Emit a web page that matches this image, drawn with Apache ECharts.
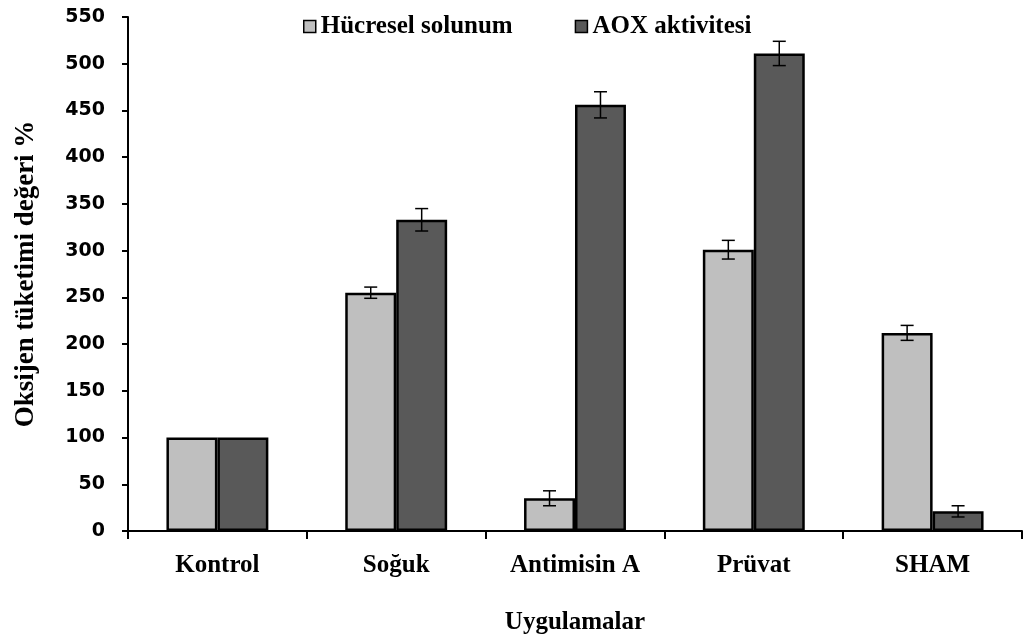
<!DOCTYPE html>
<html>
<head>
<meta charset="utf-8">
<script src="https://cdn.jsdelivr.net/npm/echarts@6/dist/echarts.min.js"></script>
<style>
  html, body { margin: 0; padding: 0; background: #fff; }
  #chart { width: 1025px; height: 643px; }
</style>
</head>
<body>
<div id="chart"></div>
<script>
// Treatments on the x axis
const categories = ['Kontrol', 'Soğuk', 'Antimisin A', 'Prüvat', 'SHAM'];
const seriesNames = ['Hücresel solunum', 'AOX aktivitesi'];
// Oxygen consumption, % of control
const cellularResp = [100, 255, 35, 301, 212];
const aoxActivity = [100, 333, 456, 511, 21];
// Standard error for each bar (0 = no error bar)
const cellularErr = [0, 6, 8, 10, 8];
const aoxErr = [0, 12, 14, 13, 6];
const yTicks = { min: 0, max: 550, interval: 50 };

const chart = echarts.init(document.getElementById('chart'));
const serif = '"Liberation Serif", "Times New Roman", serif';
const sans = '"DejaVu Sans", Verdana, sans-serif';

const gapRatio = 0.43;

// Error bars drawn as a custom series, offset onto the matching bar
function errorSeries(values, errors, sideIndex) {
  const data = values.map((v, i) => [i, v, errors[i]]).filter(d => d[2] > 0);
  return {
    type: 'custom',
    z: 10,
    silent: true,
    renderItem: function (params, api) {
      const idx = api.value(0);
      const v = api.value(1);
      const e = api.value(2);
      const bandW = api.size([1, 0])[0];
      const barW = bandW * (1 - gapRatio) / 2;
      const center = api.coord([idx, v]);
      const x = center[0] + (sideIndex === 0 ? -barW / 2 : barW / 2);
      const top = api.coord([idx, v + e])[1];
      const bot = api.coord([idx, v - e])[1];
      const cap = 6.5;
      const style = { stroke: '#000', lineWidth: 1.5 };
      return {
        type: 'group',
        children: [
          { type: 'line', shape: { x1: x, y1: top, x2: x, y2: bot }, style: style },
          { type: 'line', shape: { x1: x - cap, y1: top, x2: x + cap, y2: top }, style: style },
          { type: 'line', shape: { x1: x - cap, y1: bot, x2: x + cap, y2: bot }, style: style }
        ]
      };
    },
    data: data
  };
}

chart.setOption({
  animation: false,
  backgroundColor: '#fff',
  grid: { left: 128, right: 3, top: 17, bottom: 112, containLabel: false },
  legend: {
    data: seriesNames,
    top: 9,
    left: 298,
    itemWidth: 12,
    itemHeight: 12,
    itemGap: 62,
    icon: 'rect',
    itemStyle: { borderColor: '#000', borderWidth: 1.5 },
    textStyle: { fontFamily: serif, fontWeight: 'bold', fontSize: 25, color: '#000' }
  },
  xAxis: {
    type: 'category',
    data: categories,
    name: 'Uygulamalar',
    nameLocation: 'middle',
    nameGap: 79,
    nameTextStyle: { fontFamily: serif, fontWeight: 'bold', fontSize: 25, color: '#000' },
    axisLine: { lineStyle: { color: '#000', width: 2 } },
    axisTick: { show: true, inside: false, length: 8, lineStyle: { color: '#000', width: 2 } },
    axisLabel: { fontFamily: serif, fontWeight: 'bold', fontSize: 25, color: '#000', margin: 22 }
  },
  yAxis: {
    type: 'value',
    min: yTicks.min,
    max: yTicks.max,
    interval: yTicks.interval,
    name: 'Oksijen tüketimi değeri %',
    nameLocation: 'middle',
    nameGap: 88,
    nameTextStyle: { fontFamily: serif, fontWeight: 'bold', fontSize: 27, color: '#000' },
    axisLine: { show: true, lineStyle: { color: '#000', width: 2 } },
    axisTick: { show: true, inside: false, length: 6, lineStyle: { color: '#000', width: 2 } },
    axisLabel: { fontFamily: sans, fontWeight: 'bold', fontSize: 19, color: '#000', margin: 23 },
    splitLine: { show: false }
  },
  series: [
    {
      name: seriesNames[0],
      type: 'bar',
      data: cellularResp,
      barGap: '0%',
      barCategoryGap: (gapRatio * 100) + '%',
      itemStyle: { color: '#bfbfbf', borderColor: '#000', borderWidth: 2.5 }
    },
    {
      name: seriesNames[1],
      type: 'bar',
      data: aoxActivity,
      barGap: '0%',
      barCategoryGap: (gapRatio * 100) + '%',
      itemStyle: { color: '#595959', borderColor: '#000', borderWidth: 2.5 }
    },
    errorSeries(cellularResp, cellularErr, 0),
    errorSeries(aoxActivity, aoxErr, 1)
  ]
});
</script>
</body>
</html>
